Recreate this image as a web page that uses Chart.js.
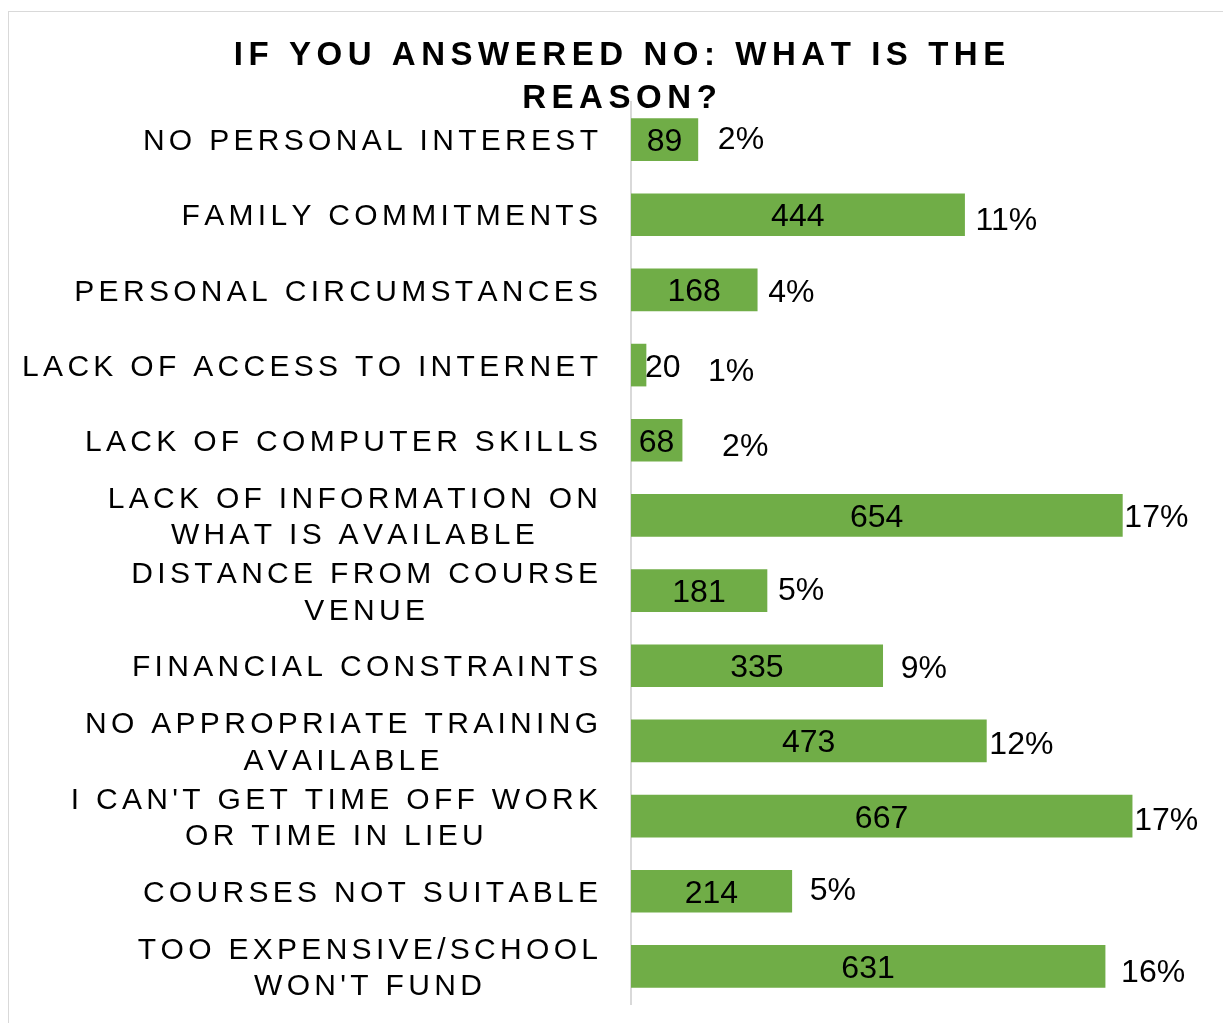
<!DOCTYPE html>
<html>
<head>
<meta charset="utf-8">
<title>If you answered no: what is the reason?</title>
<script src="https://cdn.jsdelivr.net/npm/chart.js@4.4.1/dist/chart.umd.min.js"></script>
<style>
    html, body { margin: 0; padding: 0; background: #fff; }
    #chart { display: block; }
</style>
</head>
<body>
<canvas id="chart" width="1223" height="1023"></canvas>
<script>
/* ── Data ── */
const titleLines = ['IF YOU ANSWERED NO: WHAT IS THE', 'REASON?'];

const categories = [
    ['NO PERSONAL INTEREST'],
    ['FAMILY COMMITMENTS'],
    ['PERSONAL CIRCUMSTANCES'],
    ['LACK OF ACCESS TO INTERNET'],
    ['LACK OF COMPUTER SKILLS'],
    ['LACK OF INFORMATION ON', 'WHAT IS AVAILABLE'],
    ['DISTANCE FROM COURSE', 'VENUE'],
    ['FINANCIAL CONSTRAINTS'],
    ['NO APPROPRIATE TRAINING', 'AVAILABLE'],
    ["I CAN'T GET TIME OFF WORK", 'OR TIME IN LIEU'],
    ['COURSES NOT SUITABLE'],
    ['TOO EXPENSIVE/SCHOOL', "WON'T FUND"],
];

const counts = [89, 444, 168, 20, 68, 654, 181, 335, 473, 667, 214, 631];

const percentLabels = ['2%', '11%', '4%', '1%', '2%', '17%', '5%', '9%', '12%', '17%', '5%', '16%'];

/* ── Style ── */
const FONT = '"Liberation Sans", Arial, Helvetica, sans-serif';
const GREEN = '#70ad47';
const GRID = '#d9d9d9';
// hand-placed percent labels (dx from bar end, dy from bar centre), like the original
const pctNudge = [[20, -2], [11, 4], [11, 1], [62, 4], [40, 4], [2, 0], [11, -2], [18, 1], [3, 2], [2, 2], [18, -3], [16, 4]];

// draw text with letter spacing, char by char; returns visible width
function spacedWidth(ctx, text, ls) {
    let w = 0;
    for (const ch of text) w += ctx.measureText(ch).width + ls;
    return w - ls;
}
function drawSpaced(ctx, text, x, y, ls) {
    for (const ch of text) {
        ctx.fillText(ch, x, y);
        x += ctx.measureText(ch).width + ls;
    }
}

const textPlugin = {
    id: 'texts',
    beforeDraw(chart) {
        const ctx = chart.ctx;
        ctx.save();
        // outer frame
        ctx.strokeStyle = GRID;
        ctx.lineWidth = 1;
        ctx.strokeRect(8.5, 11.5, 1400, 1400);

        // title
        ctx.fillStyle = '#000';
        ctx.textAlign = 'left';
        ctx.textBaseline = 'alphabetic';
        ctx.font = 'bold 33px ' + FONT;
        const ls = 5.55;
        titleLines.forEach((line, i) => {
            const w = spacedWidth(ctx, line, ls);
            drawSpaced(ctx, line, 619.5 - w / 2, 65 + i * 43, ls);
        });
        ctx.restore();
    },
    afterDatasetsDraw(chart) {
        const ctx = chart.ctx;
        const bars = chart.getDatasetMeta(0).data;
        ctx.save();
        ctx.fillStyle = '#000';
        ctx.textAlign = 'left';
        ctx.textBaseline = 'alphabetic';

        bars.forEach((bar, i) => {
            // category label block, right aligned, lines centred on each other
            ctx.font = '30px ' + FONT;
            const lines = categories[i];
            const ls = 4.3;
            const widths = lines.map((l) => spacedWidth(ctx, l, ls));
            const blockW = Math.max(...widths);
            const cx = 598 - blockW / 2;
            const lh = 36.5;
            lines.forEach((l, k) => {
                const cy = bar.y + (k - (lines.length - 1) / 2) * lh;
                drawSpaced(ctx, l, cx - widths[k] / 2, cy + 30 * 0.358, ls);
            });

            // value inside the bar
            ctx.font = '32px ' + FONT;
            const capHalf = 32 * 0.358;
            const txt = String(counts[i]);
            const tw = ctx.measureText(txt).width;
            const bw = bar.x - bar.base;
            const tx = tw + 4 > bw ? bar.x - 1 : (bar.x + bar.base) / 2 - tw / 2;
            ctx.fillText(txt, tx, bar.y + capHalf);

            // percent label
            const [dx, dy] = pctNudge[i];
            ctx.fillText(percentLabels[i], bar.x + dx, bar.y + dy + capHalf);
        });
        ctx.restore();
    },
};

new Chart(document.getElementById('chart'), {
    type: 'bar',
    data: {
        labels: categories,
        datasets: [{
            data: counts,
            backgroundColor: GREEN,
            borderWidth: 0,
            barThickness: 42,
        }],
    },
    options: {
        indexAxis: 'y',
        responsive: false,
        animation: false,
        layout: { padding: { top: 102, bottom: 19, right: 21, left: 0 } },
        plugins: {
            legend: { display: false },
            title: { display: false },
            tooltip: { enabled: false },
        },
        scales: {
            x: { display: false, min: 0, max: 760 },
            y: {
                ticks: { display: false },
                grid: { display: false },
                border: { display: true, color: GRID, width: 2 },
                afterFit: (scale) => { scale.width = 631; },
            },
        },
    },
    plugins: [textPlugin],
});
</script>
</body>
</html>
